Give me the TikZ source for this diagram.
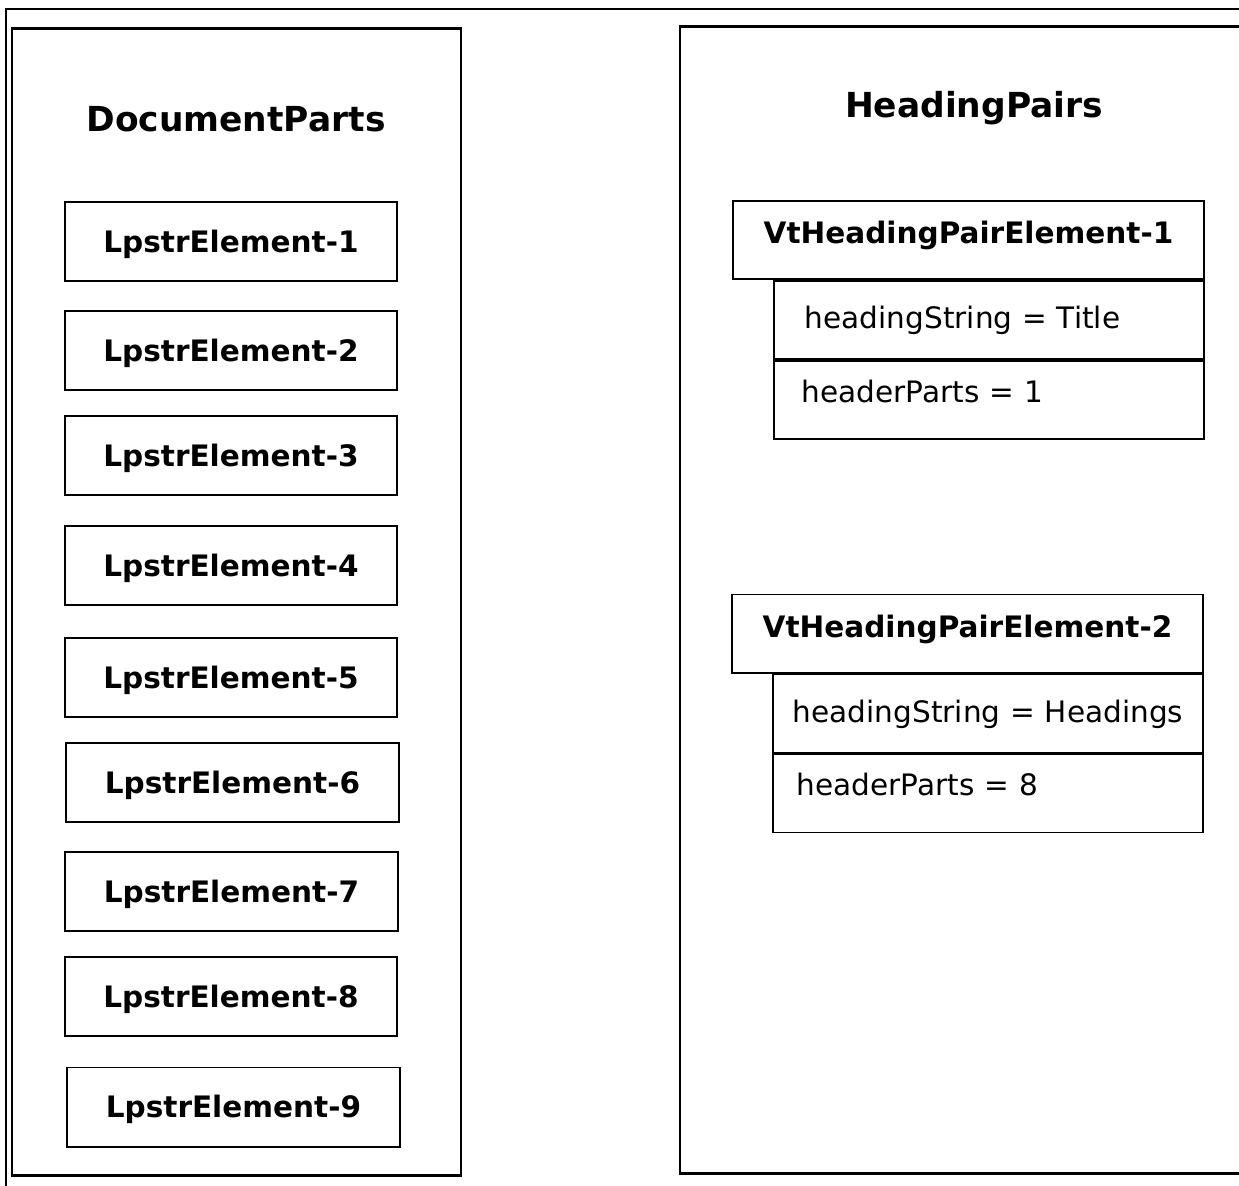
\documentclass[tikz,border=0pt]{standalone}
\usepackage{fontspec}
\setmainfont{DejaVu Sans}
\usetikzlibrary{positioning}

\begin{document}
\begin{tikzpicture}[
		x=0.025cm, y=-0.025cm,
		frame/.style={draw, line width=0.9pt},
		panel/.style={draw, line width=2pt, inner sep=0pt, minimum width=#1, minimum height=28.65cm},
		paneltitle/.style={font=\fontsize{24.5}{29}\selectfont\bfseries},
		lpstrbox/.style={draw, line width=1.4pt, inner sep=0pt, minimum width=8.3cm, minimum height=1.975cm,
				text height=17pt, text depth=1.7pt, font=\fontsize{21}{25}\selectfont\bfseries},
		vthead/.style={draw, line width=1.4pt, inner sep=0pt, minimum width=11.775cm, minimum height=1.95cm,
				text height=13pt, text depth=7.7pt, font=\fontsize{21}{25}\selectfont\bfseries},
		attrrow/.style={draw, line width=1.4pt, inner sep=0pt, text width=10.75cm, align=left,
				minimum height=1.95cm, font=\fontsize{21}{25}\selectfont,
				execute at begin node={\hspace*{#1}}},
		strrow/.style={attrrow=#1, text height=15pt, text depth=2.3pt},
		partsrow/.style={attrrow=#1, text height=11.5pt, text depth=8.6pt}
	]
	\useasboundingbox (0,0) rectangle (1239,1186);

	\draw[frame] (6,1200) |- (1250,9);

	\node[panel=11.225cm] (docparts) at (236.5,602) {};
	\node[paneltitle] (docparts title) at (236,119) {DocumentParts};
	\foreach \i/\x/\y in {1/231/241.5, 2/231/350.5, 3/231/455.5, 4/231/565.5, 5/231/677.5,
			6/232.5/782.5, 7/231.5/891.5, 8/231/996.5, 9/233.5/1107}
		\node[lpstrbox] (lpstr\i) at (\x,\y) {LpstrElement-\i};

	\node[panel=14.5cm] (headpairs) at (970,600) {};
	\node[paneltitle] (headpairs title) at (974,108) {HeadingPairs};

	\node[vthead] (vt1) at (968.5,240) {VtHeadingPairElement-1};
	\node[strrow=0.775cm, anchor=north east] (vt1 str) at (vt1.south east) {headingString = Title};
	\node[partsrow=0.7cm, below=0pt of vt1 str] (vt1 parts) {headerParts = 1};

	\node[vthead] (vt2) at (967.5,633.5) {VtHeadingPairElement-2};
	\node[strrow=0.5cm, anchor=north east] (vt2 str) at (vt2.south east) {headingString = Headings};
	\node[partsrow=0.6cm, below=0pt of vt2 str] (vt2 parts) {headerParts = 8};
\end{tikzpicture}
\end{document}
